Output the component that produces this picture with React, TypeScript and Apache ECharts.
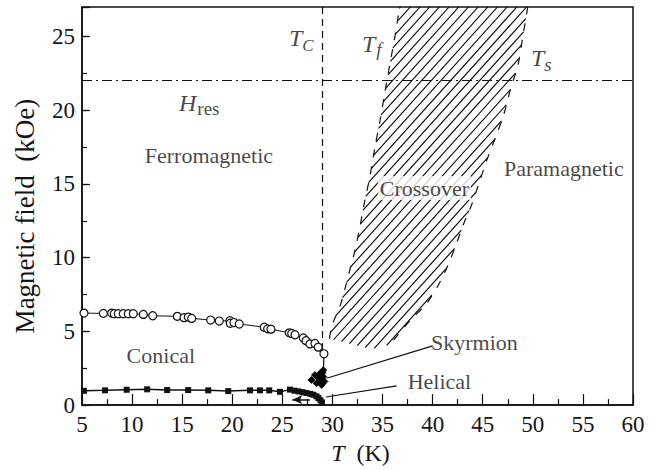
import React, { useEffect, useRef } from 'react';
import * as echarts from 'echarts';

// Conical / ferromagnetic boundary (open circles)
const conicalT = [5.2, 7.13, 7.96, 8.22, 8.62, 9.12, 9.62, 10.12, 11.12, 12.06, 14.51, 15.18, 15.61, 15.95, 17.84, 18.7, 19.77, 19.8, 20.17, 20.7, 23.19, 23.53, 23.86, 25.69, 25.93, 26.26, 27.09, 27.36, 27.75, 28.25, 28.58, 29.15];
const conicalH = [6.24, 6.22, 6.24, 6.2, 6.2, 6.2, 6.2, 6.2, 6.15, 6.06, 6.02, 5.93, 5.97, 5.88, 5.77, 5.7, 5.72, 5.55, 5.6, 5.5, 5.28, 5.17, 5.15, 4.9, 4.86, 4.77, 4.55, 4.37, 4.15, 4.18, 3.93, 3.48];

// Helical / conical boundary (filled squares)
const helicalT = [5.2, 7.3, 9.46, 11.5, 13.5, 15.6, 17.6, 19.6, 21.77, 22.76, 23.69, 24.76, 25.76, 26.2, 26.6, 27.0, 27.4, 27.8, 28.1, 28.4, 28.6, 28.8, 28.95];
const helicalH = [0.97, 1.0, 1.04, 1.07, 1.02, 1.02, 1.0, 0.95, 1.0, 1.0, 1.0, 0.9, 1.05, 0.98, 0.93, 0.88, 0.82, 0.76, 0.7, 0.6, 0.48, 0.33, 0.18];

// Skyrmion pocket (filled diamonds)
const skyrmT = [29.08, 28.75, 28.25, 29.08, 28.75, 27.9, 28.42, 28.92, 29.2, 28.6, 29.0];
const skyrmH = [2.37, 2.15, 2.04, 1.93, 1.71, 1.71, 1.49, 1.37, 1.6, 1.85, 2.2];

// stem joining conical line to skyrmion pocket
const stemT = [29.15, 29.1];
const stemH = [3.48, 2.37];

// Crossover region boundaries
const tfT = [29.7, 29.95, 30.75, 31.25, 31.75, 32.25, 32.74, 33.24, 33.74, 34.24, 34.74, 35.24, 35.7, 36.3, 36.7];
const tfH = [4.5, 5.4, 6.7, 7.9, 9.2, 10.5, 12.1, 13.9, 15.5, 17.5, 19.25, 21.25, 23.0, 25.25, 27.0];
const tsT = [36.1, 37.7, 39.4, 40.7, 41.6, 42.4, 43.1, 43.9, 44.6, 45.4, 46.3, 47.1, 47.8, 48.5, 49.0, 49.5];
const tsH = [4.4, 5.7, 6.9, 8.3, 9.6, 11.0, 12.3, 13.6, 15.0, 16.6, 18.2, 19.7, 21.5, 23.0, 25.0, 27.0];
const baseT = [35.0, 33.5, 31.8];
const baseH = [3.85, 3.85, 4.15];

// reference lines
const tcT = [29.0, 29.0];
const tcH = [27.0, 3.6];
const hresT = [5, 60];
const hresH = [22, 22];
const skyPtrT = [40.0, 29.42];
const skyPtrH = [4.02, 1.82];
const helPtrT = [36.4, 29.35];
const helPtrH = [1.31, 0.55];
const arrowT = [27.75, 26.0];
const arrowH = [0.37, 0.37];

// region labels
const regionNames = ['Ferromagnetic', 'Conical', 'Crossover', 'Paramagnetic', 'Skyrmion', 'Helical'];
const regionT = [17.67, 12.87, 39.18, 53.1, 44.17, 40.68];
const regionH = [16.9, 3.39, 14.72, 16.05, 4.26, 1.59];

// symbol annotations
const annoMain = ['T', 'T', 'T', 'H'];
const annoSub = ['C', 'f', 's', 'res'];
const annoSubStyle = ['c', 'f', 's', 'r'];
const annoT = [25.66, 32.94, 49.81, 14.68];
const annoH = [24.74, 24.34, 23.4, 20.34];

const FONT = '"Liberation Serif", "Times New Roman", serif';
const INK = '#151515';

export default function App() {
  const ref = useRef<HTMLDivElement>(null);

  useEffect(() => {
    if (!ref.current) return;
    const chart = echarts.init(ref.current, null, { renderer: 'svg' });

    const pairs = (xs: number[], ys: number[]) => xs.map((x, i) => [x, ys[i]]);

    const hatch = (params: any, api: any) => {
      const poly: number[][] = [];
      for (let i = 0; i < tfT.length; i++) poly.push(api.coord([tfT[i], tfH[i]]));
      for (let i = tsT.length - 1; i >= 0; i--) poly.push(api.coord([tsT[i], tsH[i]]));
      for (let i = 0; i < baseT.length; i++) poly.push(api.coord([baseT[i], baseH[i]]));
      const ang = (48 * Math.PI) / 180;
      const nx = Math.sin(ang);
      const ny = Math.cos(ang);
      const dot = (p: number[]) => p[0] * nx + p[1] * ny;
      const cs = poly.map(dot);
      const cmin = Math.min(...cs);
      const cmax = Math.max(...cs);
      const d = 7.2;
      const children: any[] = [];
      for (let c = Math.ceil(cmin / d) * d; c <= cmax; c += d) {
        const pts: number[][] = [];
        for (let i = 0; i < poly.length; i++) {
          const p1 = poly[i];
          const p2 = poly[(i + 1) % poly.length];
          const s1 = dot(p1) - c;
          const s2 = dot(p2) - c;
          if ((s1 < 0) !== (s2 < 0)) {
            const t = s1 / (s1 - s2);
            pts.push([p1[0] + (p2[0] - p1[0]) * t, p1[1] + (p2[1] - p1[1]) * t]);
          }
        }
        pts.sort((a, b) => a[0] - b[0]);
        for (let k = 0; k + 1 < pts.length; k += 2) {
          children.push({
            type: 'line',
            shape: { x1: pts[k][0], y1: pts[k][1], x2: pts[k + 1][0], y2: pts[k + 1][1] },
            style: { stroke: '#000', lineWidth: 1.1 },
          });
        }
      }
      return { type: 'group', children };
    };

    const seg = (xs: number[], ys: number[], style: any, endSymbol: any = null) => [
      { coord: [xs[0], ys[0]], symbol: 'none', lineStyle: style },
      endSymbol ? { coord: [xs[1], ys[1]], ...endSymbol } : { coord: [xs[1], ys[1]], symbol: 'none' },
    ];

    const option: any = {
      animation: false,
      textStyle: { fontFamily: FONT },
      grid: { left: 82, right: 20, top: 7, bottom: 58, show: true, borderColor: '#111', borderWidth: 1.5, backgroundColor: 'transparent' },
      xAxis: {
        type: 'value', min: 5, max: 60, interval: 5,
        axisLine: { show: true, onZero: false, lineStyle: { color: '#111', width: 1.5 } },
        axisTick: { show: true, inside: true, length: 11, lineStyle: { color: '#111', width: 1.2 } },
        minorTick: { show: true, splitNumber: 2, length: 6, lineStyle: { color: '#111', width: 1.2 } },
        splitLine: { show: false },
        minorSplitLine: { show: false },
        axisLabel: { color: INK, fontFamily: FONT, fontSize: 23, margin: 8 },
        name: '{i|T}  (K)', nameLocation: 'middle', nameGap: 32,
        nameTextStyle: { color: INK, fontFamily: FONT, fontSize: 24, padding: [0, 0, 0, 6], rich: { i: { fontStyle: 'italic', fontFamily: FONT, fontSize: 24, color: INK } } },
      },
      yAxis: [
        {
          type: 'value', min: 0, max: 27, interval: 5,
          axisLine: { show: true, onZero: false, lineStyle: { color: '#111', width: 1.5 } },
          axisTick: { show: true, inside: true, length: 8, lineStyle: { color: '#111', width: 1.2 } },
          splitLine: { show: false },
          axisLabel: { color: INK, fontFamily: FONT, fontSize: 23, margin: 7, formatter: (v: number) => (v % 5 === 0 ? String(v) : '') },
          name: 'Magnetic field  (kOe)', nameLocation: 'middle', nameGap: 44,
          nameTextStyle: { color: INK, fontFamily: FONT, fontSize: 27, fontWeight: 'normal', padding: [0, 20, 0, 0] },
        },
        {
          type: 'value', min: 0, max: 27, interval: 2.5, position: 'left',
          axisLine: { show: false },
          axisTick: { show: true, inside: true, length: 5, lineStyle: { color: '#111', width: 1.2 } },
          axisLabel: { show: false },
          splitLine: { show: false },
        },
      ],
      series: [
        {
          type: 'custom', coordinateSystem: 'cartesian2d', xAxisIndex: 0, yAxisIndex: 0,
          data: [[tfT[0], tfH[0]]], renderItem: hatch, z: 1, silent: true, clip: true,
        },
        {
          type: 'line', data: pairs(tfT, tfH), symbol: 'none', smooth: 0.3, z: 2, silent: true,
          lineStyle: { color: '#111', width: 1.2, type: [8, 9] },
        },
        {
          type: 'line', data: pairs(tsT, tsH), symbol: 'none', smooth: 0.3, z: 2, silent: true,
          lineStyle: { color: '#111', width: 1.2, type: [8, 9] },
        },
        {
          type: 'line', data: pairs(conicalT, conicalH), symbol: 'circle', symbolSize: 8, z: 4,
          lineStyle: { color: '#111', width: 1 },
          itemStyle: { color: '#fff', borderColor: '#111', borderWidth: 1.2 },
        },
        {
          type: 'line', data: pairs(helicalT, helicalH), symbol: 'rect', symbolSize: 6, z: 4,
          lineStyle: { color: '#111', width: 1.5 },
          itemStyle: { color: '#111', borderColor: '#111', borderWidth: 0 },
        },
        {
          type: 'scatter', data: pairs(skyrmT, skyrmH), symbol: 'diamond', symbolSize: 7, z: 5,
          itemStyle: { color: '#000', borderColor: '#000', borderWidth: 0.8, opacity: 1 },
        },
        {
          type: 'line', data: pairs(stemT, stemH), symbol: 'none', z: 3,
          lineStyle: { color: '#111', width: 1.2 },
          markLine: {
            silent: true, symbol: 'none', label: { show: false }, emphasis: { disabled: true },
            data: [
              seg(tcT, tcH, { color: '#111', width: 1.2, type: [7, 5] }),
              seg(hresT, hresH, { color: '#111', width: 1.2, type: [10, 4, 2, 4] }),
              seg(skyPtrT, skyPtrH, { color: '#111', width: 1.2, type: 'solid' }),
              seg(helPtrT, helPtrH, { color: '#111', width: 1.2, type: 'solid' }),
              seg(arrowT, arrowH, { color: '#111', width: 1.5, type: 'solid' }, { symbol: 'arrow', symbolSize: [7, 10] }),
            ],
          },
        },
        {
          type: 'scatter', z: 10, symbolSize: 1, silent: true,
          itemStyle: { color: 'rgba(0,0,0,0)' },
          data: regionNames.map((n, i) => ({
            value: [regionT[i], regionH[i]], name: n,
            label: n === 'Crossover' ? { backgroundColor: '#fff', padding: [1, 2] } : undefined,
          })),
          label: { show: true, position: 'inside', formatter: '{b}', fontFamily: FONT, fontSize: 22, color: INK },
        },
        {
          type: 'scatter', z: 10, symbolSize: 1, silent: true,
          itemStyle: { color: 'rgba(0,0,0,0)' },
          data: annoMain.map((m, i) => ({
            value: [annoT[i], annoH[i]],
            label: { formatter: `{sp| }{t|${m}}{${annoSubStyle[i]}|${annoSub[i]}}` },
          })),
          label: {
            show: true, position: 'inside', align: 'left', verticalAlign: 'middle', color: INK, fontFamily: FONT,
            rich: {
              sp: { fontSize: 1, lineHeight: 28, width: 0 },
              t: { fontSize: 24, lineHeight: 24, verticalAlign: 'top', fontStyle: 'italic', fontFamily: FONT, color: INK },
              c: { fontSize: 17, lineHeight: 17, verticalAlign: 'bottom', fontStyle: 'italic', fontFamily: FONT, color: INK, padding: [0, 0, 0, 0] },
              f: { fontSize: 19, lineHeight: 19, verticalAlign: 'bottom', fontStyle: 'italic', fontFamily: FONT, color: INK, padding: [0, 0, 1, 1] },
              s: { fontSize: 19, lineHeight: 19, verticalAlign: 'bottom', fontStyle: 'italic', fontFamily: FONT, color: INK, padding: [0, 0, 0, 0] },
              r: { fontSize: 19, lineHeight: 19, verticalAlign: 'bottom', fontFamily: FONT, color: INK, padding: [0, 0, 1, 1] },
            },
          },
        },
      ],
    };

    chart.setOption(option);
    return () => chart.dispose();
  }, []);

  return <div ref={ref} style={{ position: 'absolute', left: 0, top: 0, width: 653, height: 470 }} />;
}
